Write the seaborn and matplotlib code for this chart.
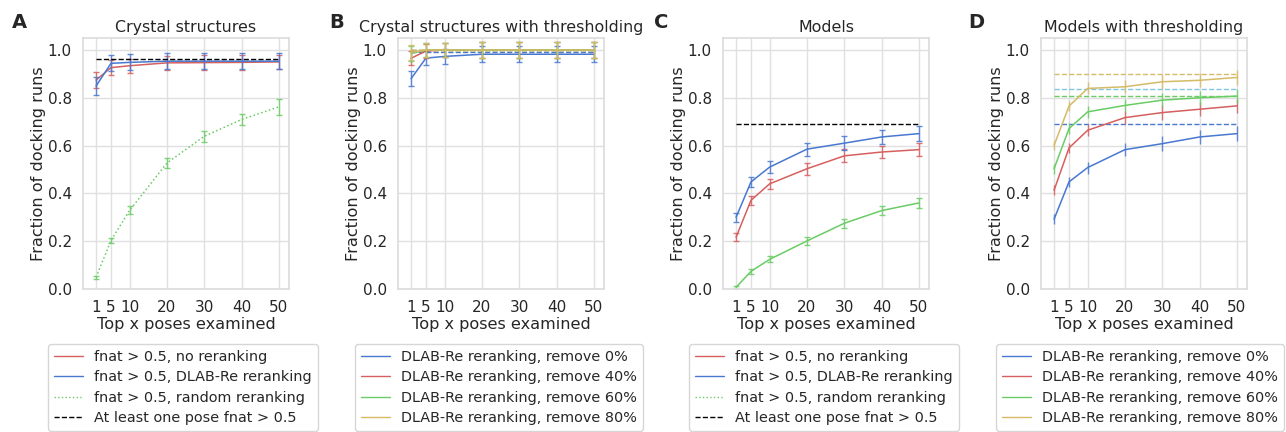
import numpy as np
import pandas as pd
import seaborn as sns
import matplotlib.pyplot as plt
from matplotlib.lines import Line2D

sns.set_theme(style="whitegrid", palette="muted")
plt.rcParams['font.family'] = ['DejaVu Sans']

x = [1, 5, 10, 20, 30, 40, 50]
xticks = [1, 5, 10, 20, 30, 40, 50]

# panel A: crystal structures
a_none = [0.874, 0.926, 0.934, 0.946, 0.947, 0.948, 0.950]
a_none_err = [0.033, 0.03, 0.03, 0.03, 0.03, 0.03, 0.03]
a_dlab = [0.849, 0.944, 0.948, 0.953, 0.953, 0.953, 0.953]
a_dlab_err = [0.038, 0.033, 0.033, 0.033, 0.033, 0.033, 0.033]
a_rand = [0.049, 0.203, 0.329, 0.527, 0.639, 0.709, 0.762]
a_rand_err = [0.007, 0.012, 0.017, 0.02, 0.022, 0.025, 0.033]
a_best = 0.961

# panel B: crystal structures with thresholding
b_0 = [0.880, 0.966, 0.973, 0.982, 0.982, 0.982, 0.982]
b_40 = [0.965, 0.996, 1.0, 1.0, 1.0, 1.0, 1.0]
b_60 = [0.985, 1.0, 1.0, 1.0, 1.0, 1.0, 1.0]
b_80 = [0.99, 1.0, 1.0, 1.0, 1.0, 1.0, 1.0]
b_err = [0.03, 0.03, 0.03, 0.033, 0.033, 0.033, 0.033]
b_best = [0.99, 1.0, 1.0, 1.0]

# panel C: models
c_none = [0.217, 0.371, 0.440, 0.503, 0.557, 0.573, 0.583]
c_none_err = [0.018, 0.02, 0.022, 0.025, 0.027, 0.027, 0.028]
c_dlab = [0.300, 0.448, 0.510, 0.585, 0.610, 0.636, 0.650]
c_dlab_err = [0.018, 0.022, 0.025, 0.027, 0.028, 0.03, 0.03]
c_rand = [0.007, 0.074, 0.124, 0.201, 0.275, 0.328, 0.360]
c_rand_err = [0.006, 0.01, 0.012, 0.015, 0.018, 0.02, 0.022]
c_best = 0.692

# panel D: models with thresholding
d_0 = [0.292, 0.448, 0.508, 0.583, 0.608, 0.636, 0.650]
d_40 = [0.413, 0.590, 0.664, 0.717, 0.738, 0.752, 0.766]
d_60 = [0.503, 0.671, 0.741, 0.768, 0.790, 0.800, 0.807]
d_80 = [0.601, 0.765, 0.839, 0.846, 0.867, 0.873, 0.885]
d_err = [0.02, 0.022, 0.025, 0.028, 0.03, 0.03, 0.03]
d_best = [0.692, 0.835, 0.808, 0.899]

pal = sns.color_palette("muted")
blue, red, green, gold, cyan = pal[0], pal[3], pal[2], pal[8], pal[9]

leg1 = ["fnat > 0.5, no reranking", "fnat > 0.5, DLAB-Re reranking",
        "fnat > 0.5, random reranking", "At least one pose fnat > 0.5"]
leg2 = ["DLAB-Re reranking, remove 0%", "DLAB-Re reranking, remove 40%",
        "DLAB-Re reranking, remove 60%", "DLAB-Re reranking, remove 80%"]


def series(ax, y, err, color, ls="-", caps=True):
    df = pd.DataFrame({"x": x, "y": y})
    sns.lineplot(data=df, x="x", y="y", ax=ax, color=color, lw=1.1, linestyle=ls)
    ax.errorbar(x, y, yerr=err, fmt="none", ecolor=color, elinewidth=1.0,
                capsize=2.5 if caps else 0, alpha=0.85)


def hline(ax, yv, color):
    ax.plot([x[0], x[-1]], [yv, yv], color=color, ls="--", lw=1.0)


fig, axes = plt.subplots(1, 4, figsize=(12.86, 4.32), dpi=100)
lefts = [83, 398, 723, 1041]
for ax, l in zip(axes, lefts):
    ax.set_position([l / 1286, 1 - 289 / 432, 206 / 1286, 251 / 432])

a, b, c, d = axes
series(a, a_none, a_none_err, red)
series(a, a_dlab, a_dlab_err, blue)
series(a, a_rand, a_rand_err, green, ls=":")
hline(a, a_best, "black")

for yv, col in zip(b_best, [blue, red, green, gold]):
    hline(b, yv, col)
for yv, col in zip([b_0, b_40, b_60, b_80], [blue, red, green, gold]):
    series(b, yv, b_err, col)

series(c, c_none, c_none_err, red)
series(c, c_dlab, c_dlab_err, blue)
series(c, c_rand, c_rand_err, green)
hline(c, c_best, "black")

for yv, col in zip(d_best, [blue, cyan, green, gold]):
    hline(d, yv, col)
for yv, col in zip([d_0, d_40, d_60, d_80], [blue, red, green, gold]):
    series(d, yv, d_err, col, caps=False)

titles = ["Crystal structures", "Crystal structures with thresholding",
          "Models", "Models with thresholding"]
for ax, t in zip(axes, titles):
    ax.set_xlim(-2.5, 52.7)
    ax.set_ylim(0, 1.05)
    ax.set_xticks(xticks)
    ax.set_yticks([0, 0.2, 0.4, 0.6, 0.8, 1.0])
    ax.tick_params(labelsize=11, pad=2)
    ax.set_xlabel("Top x poses examined", fontsize=11.6, labelpad=1)
    ax.set_ylabel("Fraction of docking runs", fontsize=11.6, labelpad=1)
    ax.set_title(t, fontsize=11.4, pad=4)
    for s in ax.spines.values():
        s.set_color("#dddddd")
    ax.grid(color="#e0e0e0")

h1 = [Line2D([], [], color=red, lw=1), Line2D([], [], color=blue, lw=1),
      Line2D([], [], color=green, lw=1, ls=":"), Line2D([], [], color="black", lw=1, ls="--")]
h2 = [Line2D([], [], color=col, lw=1) for col in [blue, red, green, gold]]

for lx, letter in zip([19, 337, 661, 976], "ABCD"):
    fig.text(lx / 1286, 1 - 22 / 432, letter, fontsize=14, fontweight="bold",
             va="center", ha="center")

leg_lefts = [48, 355, 689, 996]
for ax, lx, handles, labels in zip(axes, leg_lefts, [h1, h2, h1, h2], [leg1, leg2, leg1, leg2]):
    ax.legend(handles, labels, loc="upper left", fontsize=10.4, frameon=True,
              bbox_to_anchor=(lx / 1286, 1 - 344 / 432), bbox_transform=fig.transFigure,
              borderaxespad=0, handlelength=2.0, labelspacing=0.45)

fig.savefig("out.png", dpi=100)
